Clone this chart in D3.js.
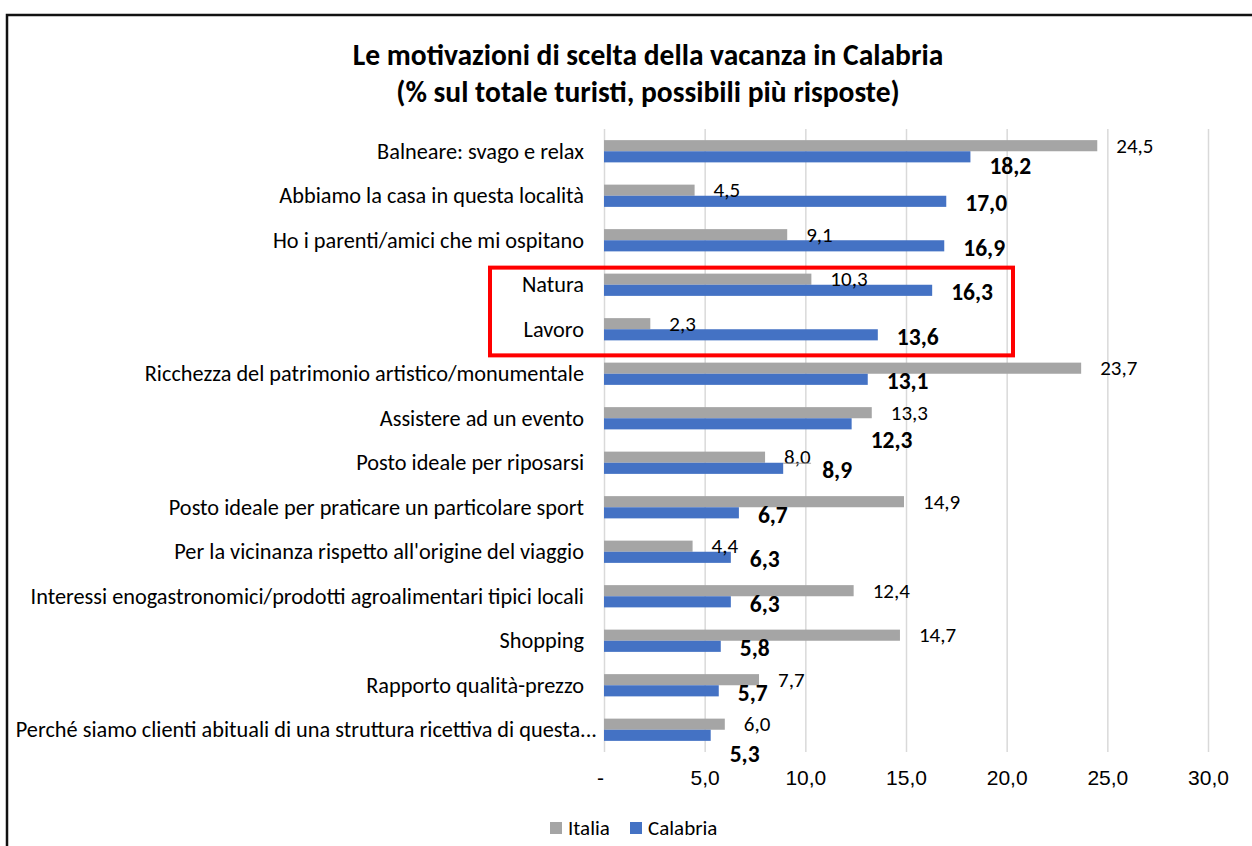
<!DOCTYPE html>
<html>
<head>
<meta charset="utf-8">
<script src="https://cdn.jsdelivr.net/npm/d3@7"></script>
<style>
  body { margin: 0; background: #fff; }
  svg { font-family: Calibri, Carlito, Lato, sans-serif; }
</style>
</head>
<body>
<div class="wrapper"></div>
<script>
const categories = [
  'Balneare: svago e relax',
  'Abbiamo la casa in questa località',
  'Ho i parenti/amici che mi ospitano',
  'Natura',
  'Lavoro',
  'Ricchezza del patrimonio artistico/monumentale',
  'Assistere ad un evento',
  'Posto ideale per riposarsi',
  'Posto ideale per praticare un particolare sport',
  "Per la vicinanza rispetto all'origine del viaggio",
  'Interessi enogastronomici/prodotti agroalimentari tipici locali',
  'Shopping',
  'Rapporto qualità-prezzo',
  'Perché siamo clienti abituali di una struttura ricettiva di questa...'
]
const italia = [24.5, 4.5, 9.1, 10.3, 2.3, 23.7, 13.3, 8.0, 14.9, 4.4, 12.4, 14.7, 7.7, 6.0]
const calabria = [18.2, 17.0, 16.9, 16.3, 13.6, 13.1, 12.3, 8.9, 6.7, 6.3, 6.3, 5.8, 5.7, 5.3]
const seriesNames = ['Italia', 'Calabria']
const xTicks = [0, 5, 10, 15, 20, 25, 30]
const highlighted = ['Natura', 'Lavoro']
const titleLines = [
  'Le motivazioni di scelta della vacanza in Calabria',
  '(% sul totale turisti, possibili più risposte)'
]

const width = 1252, height = 846
const colors = { Italia: '#a5a5a5', Calabria: '#4472c4' }

const locale = d3.formatLocale({ decimal: ',', thousands: '.', grouping: [3], currency: ['', '€'] })
const fmt = locale.format('.1f')

const rows = categories.map((c, i) => ({ name: c, Italia: italia[i], Calabria: calabria[i] }))

const svg = d3.select('.wrapper')
  .append('svg')
  .attr('width', width)
  .attr('height', height)

// frame of the pasted chart
svg.append('path')
  .attr('d', `M7,${height + 5}V15H${width + 5}`)
  .attr('fill', 'none')
  .attr('stroke', '#111')
  .attr('stroke-width', 2.5)

const x = d3.scaleLinear().domain([0, 30]).range([604, 1208])
const y = d3.scaleBand().domain(categories).range([129, 752]).paddingInner(0.5).paddingOuter(0.25)
const ySub = d3.scaleBand().domain(seriesNames).range([0, y.bandwidth()])

// title
svg.append('g').selectAll('text')
  .data(titleLines)
  .enter().append('text')
  .attr('x', 648)
  .attr('y', (d, i) => 55 + i * 37)
  .attr('text-anchor', 'middle')
  .attr('dominant-baseline', 'central')
  .attr('font-size', '29.5px')
  .attr('font-weight', 'bold')
  .attr('fill', '#000')
  .text(d => d)

// gridlines
svg.append('g')
  .attr('transform', 'translate(0,129)')
  .call(d3.axisBottom(x).tickValues(xTicks).tickSize(752 - 129).tickFormat(''))
  .call(g => g.select('.domain').remove())
  .call(g => g.selectAll('line').attr('stroke', '#d9d9d9').attr('stroke-width', 1.5))

// x tick labels
svg.append('g')
  .attr('transform', 'translate(0,771)')
  .call(d3.axisBottom(x).tickValues(xTicks).tickSize(0).tickFormat(d => d === 0 ? '-' : fmt(d)))
  .call(g => g.select('.domain').remove())
  .call(g => g.selectAll('text')
    .attr('font-family', null)
    .attr('font-size', '21px')
    .attr('fill', '#000')
    .attr('dy', '0.5em')
    .attr('x', d => d === 0 ? -4 : 0))

// category labels
svg.append('g').selectAll('text')
  .data(categories)
  .enter().append('text')
  .attr('x', d => d.endsWith('...') ? 597 : 584)
  .attr('y', d => y(d) + y.bandwidth() / 2)
  .attr('text-anchor', 'end')
  .attr('dominant-baseline', 'central')
  .attr('font-size', '22.3px')
  .attr('fill', '#000')
  .text(d => d)

// bars
const row = svg.append('g').selectAll('.row')
  .data(rows)
  .enter().append('g')
  .attr('class', 'row')
  .attr('transform', d => `translate(0,${y(d.name)})`)

row.selectAll('rect')
  .data(d => seriesNames.map(s => ({ key: s, value: d[s] })))
  .enter().append('rect')
  .attr('x', x(0))
  .attr('y', d => ySub(d.key))
  .attr('width', d => x(d.value) - x(0))
  .attr('height', ySub.bandwidth())
  .attr('fill', d => colors[d.key])

// value labels (some were moved by hand in the original)
const nudgeY = {
  'Balneare: svago e relax': 7,
  'Assistere ad un evento': 14,
  'Perché siamo clienti abituali di una struttura ricettiva di questa...': 17
}
const nudgeX = { 'Posto ideale per riposarsi': 20 }

row.append('text')
  .attr('x', d => x(d.Italia) + 19)
  .attr('y', ySub('Italia') + ySub.bandwidth() / 2)
  .attr('dominant-baseline', 'central')
  .attr('font-size', '21px')
  .attr('fill', '#000')
  .text(d => fmt(d.Italia))

row.append('text')
  .attr('x', d => x(d.Calabria) + 19 + (nudgeX[d.name] || 0))
  .attr('y', d => ySub('Calabria') + ySub.bandwidth() / 2 + 2 + (nudgeY[d.name] || 0))
  .attr('dominant-baseline', 'central')
  .attr('font-size', '23.5px')
  .attr('font-weight', 'bold')
  .attr('fill', '#000')
  .text(d => fmt(d.Calabria))

// leader line under the 8,0 label
const riposo = rows[7]
svg.append('line')
  .attr('x1', x(riposo.Italia) + 18)
  .attr('x2', x(riposo.Italia) + 46)
  .attr('y1', y(riposo.name) + y.bandwidth() / 2 + 0.5)
  .attr('y2', y(riposo.name) + y.bandwidth() / 2 + 0.5)
  .attr('stroke', '#a5a5a5')
  .attr('stroke-width', 1)

// red highlight box
const boxTop = y(highlighted[0]) - 6
const boxBottom = y(highlighted[highlighted.length - 1]) + y.bandwidth() + 15
svg.append('rect')
  .attr('x', 490)
  .attr('y', boxTop)
  .attr('width', 1013 - 490)
  .attr('height', boxBottom - boxTop)
  .attr('fill', 'none')
  .attr('stroke', '#ff0000')
  .attr('stroke-width', 4)

// legend
const legendX = { Italia: 550, Calabria: 630 }
const legend = svg.append('g').selectAll('g')
  .data(seriesNames)
  .enter().append('g')
  .attr('transform', d => `translate(${legendX[d]},828)`)

legend.append('rect')
  .attr('x', 0)
  .attr('y', -6)
  .attr('width', 12)
  .attr('height', 12)
  .attr('fill', d => colors[d])

legend.append('text')
  .attr('x', 18)
  .attr('dominant-baseline', 'central')
  .attr('font-size', '21px')
  .attr('fill', '#000')
  .text(d => d)
</script>
</body>
</html>
